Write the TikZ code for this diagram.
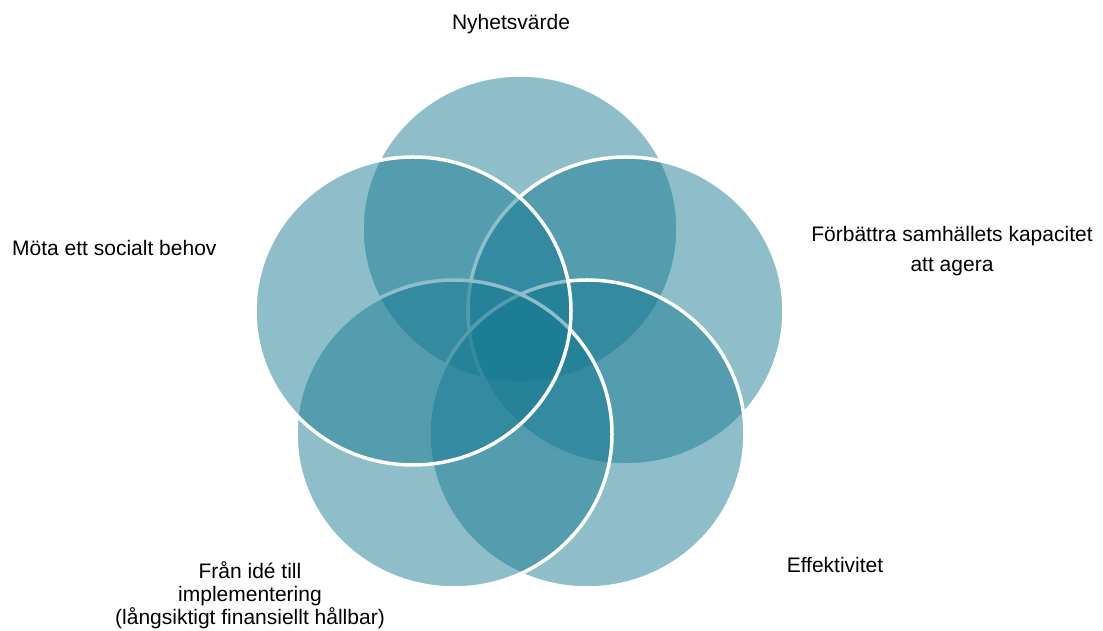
\documentclass[tikz,border=0pt]{standalone}
\usepackage{fontspec}
\setmainfont{Liberation Sans}
\usepackage{tikz}
\usetikzlibrary{positioning}
\definecolor{vennteal}{RGB}{19,120,145}
\tikzset{venn/.style = {fill = vennteal, fill opacity = 0.48, draw = white,
                        line width = 3.5pt}}
\tikzset{lbl/.style = {inner sep = 0, align = center,
                       font = \fontsize{21}{25}\selectfont}}

\begin{document}
\begin{tikzpicture}[x = 1pt, y = 1pt]
      \useasboundingbox (0, 0) rectangle (1103, 631);

      \coordinate (top) at (520, 402);
      \coordinate (right) at (626, 320);
      \coordinate (botright) at (587, 197);
      \coordinate (botleft) at (454, 197);
      \coordinate (left) at (413, 320);

      \draw [venn] (top) circle [x radius = 158, y radius = 154];
      \draw [venn] (right) circle [x radius = 158, y radius = 154];
      \draw [venn] (botright) circle [x radius = 158, y radius = 154];
      \draw [venn] (botleft) circle [x radius = 158, y radius = 154];
      \draw [venn] (left) circle [x radius = 158, y radius = 154];

      \node [lbl] (nyhet) at (511, 607) {Nyhetsvärde};
      \node [lbl, anchor = west] (behov) at (12, 383) {Möta ett socialt behov};
      \node [lbl, font = \fontsize{21}{30}\selectfont] (kapacitet) at (952, 380)
            {Förbättra samhällets kapacitet\\att agera};
      \node [lbl] (effekt) at (835, 66) {Effektivitet};
      \node [lbl, font = \fontsize{21}{23}\selectfont] (impl) at (250, 36)
            {Från idé till\\implementering\\(långsiktigt finansiellt hållbar)};
    \end{tikzpicture}
\end{document}
